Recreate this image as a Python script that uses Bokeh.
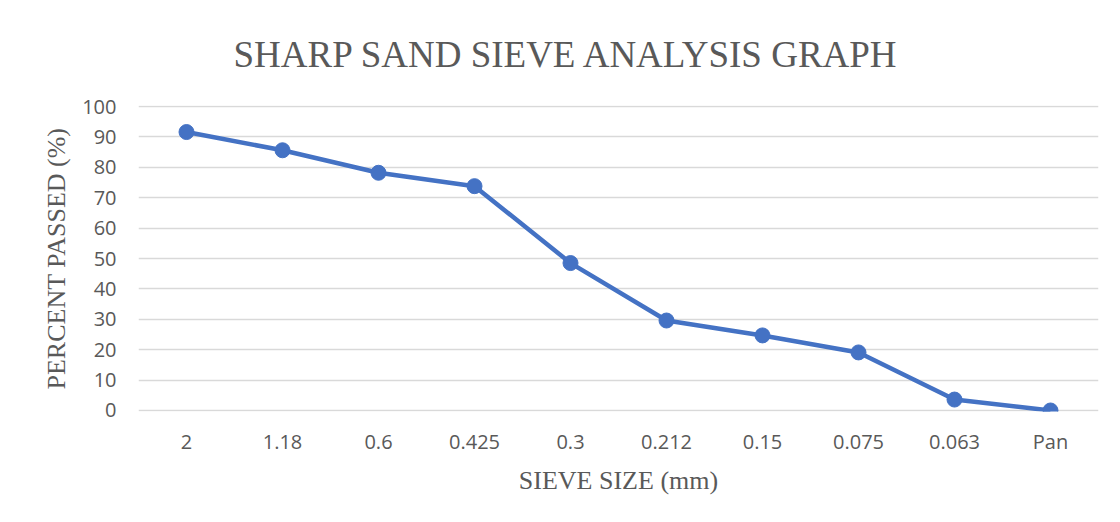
from bokeh.plotting import figure
from bokeh.models import FactorRange, Range1d, FixedTicker
from bokeh.embed import file_html
from bokeh.resources import INLINE

sieve_sizes = ["2", "1.18", "0.6", "0.425", "0.3", "0.212", "0.15", "0.075", "0.063", "Pan"]
percent_passed = [91.6, 85.6, 78.2, 73.8, 48.5, 29.6, 24.7, 19.1, 3.6, 0.0]
y_ticks = [0, 10, 20, 30, 40, 50, 60, 70, 80, 90, 100]

TEXT = "#595959"
LINE = "#4472C4"

p = figure(
    width=1112, height=514,
    x_range=FactorRange(*sieve_sizes, range_padding=0),
    y_range=Range1d(-0.33, 100.33),
    output_backend="svg", toolbar_location=None,
    min_border_left=138, min_border_right=14, min_border_top=105, min_border_bottom=103,
)
p.outline_line_color = None
p.background_fill_color = "white"
p.border_fill_color = "white"

p.line(sieve_sizes, percent_passed, line_color=LINE, line_width=4.5)
p.scatter(sieve_sizes, percent_passed, size=15, fill_color=LINE, line_color=LINE)

p.xgrid.grid_line_color = None
p.ygrid.grid_line_color = "#d9d9d9"
p.ygrid.grid_line_width = 1.5
p.yaxis.ticker = FixedTicker(ticks=y_ticks)

for ax in (p.xaxis, p.yaxis):
    ax.axis_line_color = None
    ax.major_tick_line_color = None
    ax.minor_tick_line_color = None
    ax.major_tick_out = 0
    ax.major_tick_in = 0
    ax.major_label_text_font = "Open Sans"
    ax.major_label_text_font_size = "20px"
    ax.major_label_text_color = TEXT
    ax.axis_label_text_font = "Liberation Serif"
    ax.axis_label_text_font_size = "26px"
    ax.axis_label_text_font_style = "normal"
    ax.axis_label_text_color = TEXT

p.yaxis.axis_label = "PERCENT PASSED (%)"
p.xaxis.axis_label = "SIEVE SIZE (mm)"
p.yaxis.major_label_standoff = 22
p.yaxis.axis_label_standoff = 8
p.xaxis.major_label_standoff = 16
p.xaxis.axis_label_standoff = 8

p.title.text = "SHARP SAND SIEVE ANALYSIS GRAPH"
p.title.text_font = "Liberation Serif"
p.title.text_font_size = "37px"
p.title.text_font_style = "normal"
p.title.text_color = TEXT
p.title.text_line_height = 0.8
p.title.align = "left"
p.title.offset = 95
p.title.standoff = 62

open("out.html", "w").write(file_html(p, INLINE))
